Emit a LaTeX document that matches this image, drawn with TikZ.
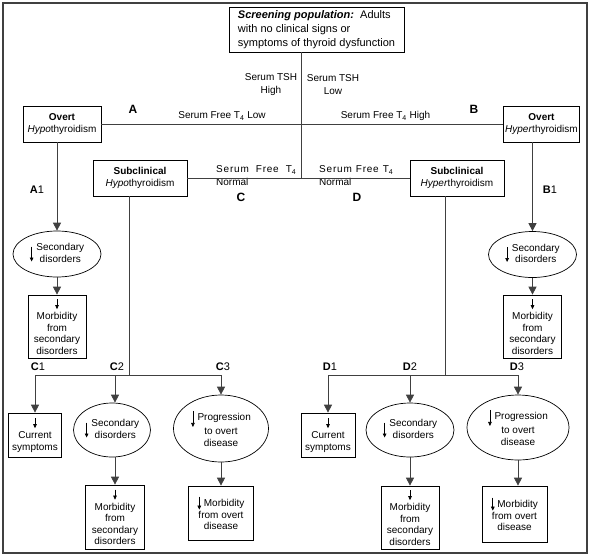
\documentclass[tikz,border=0pt]{standalone}
\usepackage{fontspec}
\setmainfont{Liberation Sans}
\usetikzlibrary{arrows.meta}
\usetikzlibrary{shapes.geometric}
\tikzset{box/.style = {draw, rectangle, line width=0.7pt, align=center, inner sep=2pt,
                       font=\fontsize{10pt}{11.5pt}\selectfont}}
\tikzset{oval/.style = {draw, ellipse, line width=0.7pt, align=center, inner sep=0pt,
                        font=\fontsize{10pt}{11.5pt}\selectfont}}
\tikzset{conn/.style = {draw=black!75, line width=0.8pt}}
\tikzset{arr/.style = {conn, -{Triangle[length=8pt,width=8pt]}}}
\tikzset{tip/.style = {line width=0.7pt, -{Triangle[length=4pt,width=3.6pt]}}}
\tikzset{lab/.style = {align=center, inner sep=0pt, font=\fontsize{10pt}{13pt}\selectfont}}
\tikzset{letter/.style = {inner sep=0pt, font=\fontsize{11pt}{13pt}\selectfont}}
\tikzset{frame/.style = {draw=black!75, line width=1.2pt}}
\newcommand{\dnarr}[2]{\tikz[baseline=0pt]\draw[tip] (0pt,#1) -- (0pt,#2);}

\begin{document}
\begin{tikzpicture}[x=1pt, y=-1pt]
      \useasboundingbox (0,0) rectangle (592,558);
      \draw [frame] (3,3) rectangle (587,553);

      \node [box, align=left, minimum width=175pt, minimum height=45pt,
             font=\fontsize{11pt}{14pt}\selectfont] (screen) at (316.5,29.5)
            {\textbf{\textit{Screening population:}}\ \ Adults\\with no clinical signs or\\symptoms of thyroid dysfunction};

      \node [box, minimum width=78pt, minimum height=36pt] (ovhypo) at (62,124)
            {\textbf{Overt}\\\textit{Hypo}thyroidism};
      \node [box, minimum width=75pt, minimum height=36pt] (ovhyper) at (541.5,124)
            {\textbf{Overt}\\\textit{Hyper}thyroidism};
      \node [box, minimum width=94pt, minimum height=36pt] (subhypo) at (140,178)
            {\textbf{Subclinical}\\\textit{Hypo}thyroidism};
      \node [box, minimum width=94pt, minimum height=36pt] (subhyper) at (457,178)
            {\textbf{Subclinical}\\\textit{Hyper}thyroidism};

      \node [oval, minimum width=88pt, minimum height=46pt] (secA) at (57,254)
            {\dnarr{10pt}{-5pt}\hspace{3pt}\begin{tabular}{@{}c@{}}Secondary\\disorders\end{tabular}};
      \node [box, minimum width=58pt, minimum height=63pt] (morA) at (57,326.5)
            {\dnarr{9pt}{-1pt}\\Morbidity\\from\\secondary\\disorders};
      \node [oval, minimum width=88pt, minimum height=46pt] (secB) at (532.5,254.5)
            {\dnarr{10pt}{-5pt}\hspace{3pt}\begin{tabular}{@{}c@{}}Secondary\\disorders\end{tabular}};
      \node [box, minimum width=58pt, minimum height=63pt] (morB) at (532.5,326.5)
            {\dnarr{9pt}{-1pt}\\Morbidity\\from\\secondary\\disorders};

      \node [box, minimum width=53pt, minimum height=44pt] (curC) at (35,435)
            {\dnarr{9pt}{-1pt}\\Current\\symptoms};
      \node [oval, minimum width=75pt, minimum height=54pt] (secC) at (112,430)
            {\dnarr{10pt}{-5pt}\hspace{3pt}\begin{tabular}{@{}c@{}}Secondary\\disorders\end{tabular}};
      \node [box, minimum width=59pt, minimum height=64pt] (morC) at (115,517)
            {\dnarr{9pt}{-1pt}\\Morbidity\\from\\secondary\\disorders};
      \node [oval, minimum width=95pt, minimum height=67pt] (proC) at (221,428.5)
            {\dnarr{10pt}{-6pt}\ Progression\\to overt\\disease};
      \node [box, minimum width=65pt, minimum height=54pt] (movC) at (221,513)
            {\dnarr{10pt}{-3pt}\ Morbidity\\from overt\\disease};

      \node [box, minimum width=54pt, minimum height=44pt] (curD) at (328,435)
            {\dnarr{9pt}{-1pt}\\Current\\symptoms};
      \node [oval, minimum width=88pt, minimum height=54pt] (secD) at (410,430)
            {\dnarr{10pt}{-5pt}\hspace{3pt}\begin{tabular}{@{}c@{}}Secondary\\disorders\end{tabular}};
      \node [box, minimum width=58pt, minimum height=63pt] (morD) at (410,517.5)
            {\dnarr{9pt}{-1pt}\\Morbidity\\from\\secondary\\disorders};
      \node [oval, minimum width=102pt, minimum height=65pt] (proD) at (518,427.5)
            {\dnarr{10pt}{-6pt}\ Progression\\to overt\\disease};
      \node [box, minimum width=65pt, minimum height=56pt] (movD) at (514.5,514)
            {\dnarr{10pt}{-3pt}\ Morbidity\\from overt\\disease};

      \node [lab] (tshhigh) at (271,85) {Serum TSH\\High};
      \node [lab] (tshlow) at (333,85) {Serum TSH\\Low};
      \node [lab] (t4low) at (222,116) {Serum Free T\textsubscript{4} Low};
      \node [lab] (t4high) at (385.5,116) {Serum Free T\textsubscript{4} High};
      \node [lab, anchor=west, align=left] (t4normc) at (216,176)
            {{\addfontfeature{LetterSpace=8}Serum\hspace{7pt}Free\hspace{7pt}T\textsubscript{4}}\\Normal};
      \node [lab, anchor=west, align=left] (t4normd) at (319,176)
            {{\addfontfeature{LetterSpace=8}Serum\hspace{4pt}Free\hspace{4pt}T\textsubscript{4}}\\Normal};

      \node [letter, font=\fontsize{12pt}{14pt}\selectfont\bfseries] (lA) at (133,109) {A};
      \node [letter, font=\fontsize{12pt}{14pt}\selectfont\bfseries] (lB) at (474,109) {B};
      \node [letter, font=\fontsize{12pt}{14pt}\selectfont\bfseries] (lC) at (241,197) {C};
      \node [letter, font=\fontsize{12pt}{14pt}\selectfont\bfseries] (lD) at (357,197) {D};
      \node [letter] (lA1) at (37,190) {\textbf{A}1};
      \node [letter] (lB1) at (550,190) {\textbf{B}1};
      \node [letter] (lC1) at (38,367) {\textbf{C}1};
      \node [letter] (lC2) at (117,367) {\textbf{C}2};
      \node [letter] (lC3) at (223,367) {\textbf{C}3};
      \node [letter] (lD1) at (330,367) {\textbf{D}1};
      \node [letter] (lD2) at (410,367) {\textbf{D}2};
      \node [letter] (lD3) at (517,367) {\textbf{D}3};

      \coordinate (tshbot) at (301,178);
      \coordinate (cj) at (129,375);
      \coordinate (c1) at (35,375);
      \coordinate (c2) at (115,375);
      \coordinate (c3) at (221,375);
      \coordinate (dj) at (445,375);
      \coordinate (d1) at (328,375);
      \coordinate (d2) at (410,375);
      \coordinate (d3) at (518,375);

      \draw [conn] (tshbot |- screen.south) -- (tshbot);
      \draw [conn] (ovhypo) -- (ovhyper);
      \draw [conn] (subhypo) -- (subhyper);

      \draw [arr] (secA |- ovhypo.south) -- (secA);
      \draw [arr] (secA) -- (morA);
      \draw [arr] (secB |- ovhyper.south) -- (secB);
      \draw [arr] (secB) -- (morB);

      \draw [conn] (cj |- subhypo.south) -- (cj);
      \draw [conn] (c1) -- (c3);
      \draw [arr] (c1) -- (curC);
      \draw [arr] (c2) -- (c2 |- secC.north);
      \draw [arr] (secC.south -| morC) -- (morC);
      \draw [arr] (c3) -- (proC);
      \draw [arr] (proC) -- (movC);

      \draw [conn] (dj |- subhyper.south) -- (dj);
      \draw [conn] (d1) -- (d3);
      \draw [arr] (d1) -- (curD);
      \draw [arr] (d2) -- (secD);
      \draw [arr] (secD) -- (morD);
      \draw [arr] (d3) -- (proD);
      \draw [arr] (proD.south) -- (proD.south |- movD.north);
    \end{tikzpicture}
\end{document}
